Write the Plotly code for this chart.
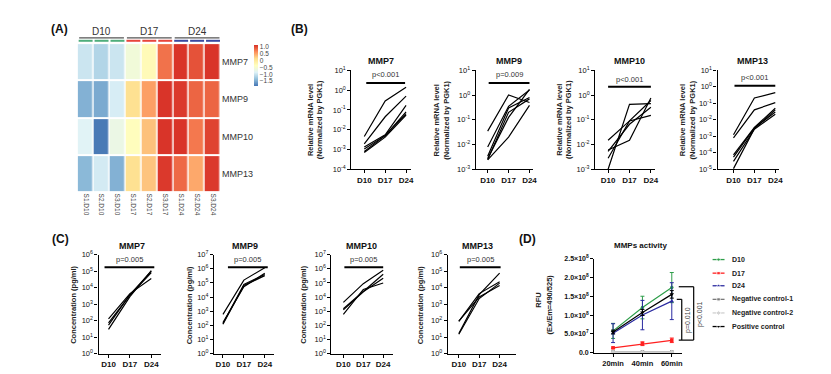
import plotly.graph_objects as go

W, H = 831, 374
FONT = "Liberation Sans, Arial, sans-serif"

# ---------------- data ----------------
hm_rows = ["MMP7", "MMP9", "MMP10", "MMP13"]
hm_cols = ["S1.D10", "S2.D10", "S3.D10", "S1.D17", "S2.D17", "S3.D17", "S1.D24", "S2.D24", "S3.D24"]
hm_mmp7 = [-1.0, -1.15, -1.0, -0.6, -0.3, 0.75, 1.08, 0.92, 1.08]
hm_mmp9 = [-1.45, -1.5, -0.92, 0.1, 0.5, 1.08, 1.05, 0.82, 0.82]
hm_mmp10 = [-0.85, -1.82, -0.7, -0.35, 0.3, 1.08, 1.08, 0.72, 1.0]
hm_mmp13 = [-1.4, -0.95, -1.45, 0.1, 0.28, 1.05, 0.8, 0.45, 1.05]
hm_groups = ["D10", "D17", "D24"]
cb_ticks = [1.0, 0.5, 0.0, -0.5, -1.0, -1.5]
cb_text = ["1.0", "0.5", "0", "\u22120.5", "\u22121.0", "\u22121.5"]

days = ["D10", "D17", "D24"]

# (B) relative mRNA level, one list per donor: [D10, D17, D24]
mrna_mmp7 = [[4.5e-3, 0.28, 1.4], [1.9e-3, 0.045, 0.5], [1.35e-3, 5.5e-3, 0.17],
             [1.07e-3, 5e-3, 0.08], [8e-4, 5e-3, 0.065], [7e-4, 4.2e-3, 0.055]]
mrna_mmp9 = [[0.035, 1.0, 0.5], [8e-3, 0.35, 1.6], [3.4e-3, 0.3, 0.8],
             [2.7e-3, 0.125, 1.7], [2.4e-3, 0.02, 0.38], [2.5e-3, 0.2, 0.7]]
mrna_mmp10 = [[1e-3, 0.42, 0.45], [0.015, 0.09, 0.15], [6e-3, 0.015, 0.76],
              [5.3e-3, 0.066, 0.32], [2.8e-3, 0.09, 0.6]]
mrna_mmp13 = [[1.25e-3, 0.21, 0.44], [8e-4, 0.04, 0.11], [7.4e-5, 3.4e-3, 0.05],
              [5.5e-5, 3.2e-3, 0.03], [3e-5, 2.7e-3, 0.022], [1.1e-5, 2.9e-3, 0.04]]
mrna_p = ["p<0.001", "p=0.009", "p<0.001", "p<0.001"]

# (C) concentration pg/ml
conc_mmp7 = [[130, 4400, 3.6e4], [75, 3500, 8.3e4], [54, 3800, 1.0e5], [30, 2900, 1.1e5]]
conc_mmp9 = [[600, 1.6e5, 1.2e6], [135, 8e4, 4e5], [120, 6.6e4, 3.3e5], [160, 5.5e4, 4.8e5]]
conc_mmp10 = [[4300, 9e4, 8e5], [1500, 2.7e4, 4.2e5], [1260, 2.4e4, 2.2e5], [600, 3.5e4, 1e5]]
conc_mmp13 = [[90, 4400, 2.3e4], [95, 2700, 1.35e4], [17, 3800, 7.6e4], [15, 2200, 1.9e4]]
conc_p = ["p=0.005", "p=0.005", "p=0.005", "p=0.005"]

# (D) MMPs activity
times = ["20min", "40min", "60min"]
act_names = ["D10", "D17", "D24", "Negative control-1", "Negative control-2", "Positive control"]
act_d10 = [5.8e7, 1.2e8, 1.73e8]
act_d10_err = [2.0e7, 3.0e7, 4.0e7]
act_d17 = [1.3e7, 2.4e7, 3.3e7]
act_d17_err = [2e6, 5e6, 6e6]
act_d24 = [5.2e7, 1.0e8, 1.37e8]
act_d24_err = [2.5e7, 3.9e7, 4.9e7]
act_nc1 = [2e6, 2e6, 2e6]
act_nc2 = [1e6, 1e6, 1e6]
act_pc = [5.5e7, 1.07e8, 1.55e8]
act_pc_err = [5e6, 8e6, 1e7]
act_ticks = [0, 5e7, 1e8, 1.5e8, 2e8, 2.5e8]
act_ticktext = ["0.0", "5.0\u00d710<sup>7</sup>", "1.0\u00d710<sup>8</sup>", "1.5\u00d710<sup>8</sup>",
                "2.0\u00d710<sup>8</sup>", "2.5\u00d710<sup>8</sup>"]

# ---------------- helpers ----------------
def fx(px):
    return px / W


def fy(py):
    return 1 - py / H


fig = go.Figure()
layout = {}
shapes = []
annots = []


def text(px, py, s, size=8, bold=False, color="#222", angle=0, xanchor="center"):
    annots.append(dict(x=fx(px), y=fy(py), xref="paper", yref="paper", text=f"<b>{s}</b>" if bold else s,
                       showarrow=False, textangle=angle, xanchor=xanchor, yanchor="middle",
                       font=dict(size=size, color=color, family=FONT)))


def hline(x0, x1, y, width=1.2, color="black"):
    shapes.append(dict(type="line", xref="paper", yref="paper", x0=fx(x0), x1=fx(x1), y0=fy(y), y1=fy(y),
                       line=dict(color=color, width=width)))


def vline(x, y0, y1, width=1.2, color="black"):
    shapes.append(dict(type="line", xref="paper", yref="paper", x0=fx(x), x1=fx(x), y0=fy(y0), y1=fy(y1),
                       line=dict(color=color, width=width)))


axbase = dict(showline=True, linecolor="black", linewidth=1.2, ticks="outside", ticklen=3, tickwidth=1,
              tickcolor="black", showgrid=False, zeroline=False, fixedrange=True)

# ---------------- (A) heatmap ----------------
hm_scale = [[0, "#4575B4"], [1 / 6, "#91BFDB"], [2 / 6, "#E0F3F8"], [3 / 6, "#FFFFBF"],
            [4 / 6, "#FEE090"], [5 / 6, "#FC8D59"], [1, "#D73027"]]
fig.add_trace(go.Heatmap(z=[hm_mmp7, hm_mmp9, hm_mmp10, hm_mmp13], x=hm_cols, y=hm_rows,
                         colorscale=hm_scale, zmin=-1.85, zmax=1.1, xgap=1.5, ygap=2,
                         xaxis="x", yaxis="y", hoverinfo="skip",
                         colorbar=dict(x=fx(247), xanchor="left", y=fy(32), yanchor="top",
                                       thickness=4, thicknessmode="pixels", len=41, lenmode="pixels",
                                       outlinewidth=0, tickvals=cb_ticks, ticktext=cb_text, ticks="",
                                       tickfont=dict(size=6.5, color="#444", family=FONT), xpad=0, ypad=0)))
layout["xaxis"] = dict(domain=[fx(70), fx(214)], anchor="y", showline=False, ticks="", showgrid=False,
                       zeroline=False, tickangle=90, tickfont=dict(size=6.5, color="#444", family=FONT),
                       fixedrange=True)
layout["yaxis"] = dict(domain=[fy(184), fy(30)], anchor="x", side="right", autorange="reversed",
                       showline=False, ticks="", showgrid=False, zeroline=False,
                       tickfont=dict(size=9, color="#333", family=FONT), fixedrange=True)
grp_colors = ["#4fae7c", "#e8453c", "#3a48a0"]
for g, name in enumerate(hm_groups):
    x0 = 70 + g * 48
    text(x0 + 24, 18, name, size=10, color="#333")
    hline(x0 + 1.5, x0 + 46.5, 24.5, width=1.3, color="#555")
    for c in range(3):
        cx = x0 + c * 16
        hline(cx + 1, cx + 15, 27.6, width=2, color=grp_colors[g])
text(52, 15, "(A)", size=12, bold=True, color="#111")

# ---------------- log line panels ----------------
def log_panel(idx, series, L, p0, p2, R, top, bot, lo, hi):
    unit = (p2 - p0) / 2
    layout[f"xaxis{idx}"] = dict(axbase, domain=[fx(L), fx(R)], range=[(L - p0) / unit, (R - p0) / unit],
                                 anchor=f"y{idx}", tickvals=[0, 1, 2], ticktext=[f"<b>{d}</b>" for d in days],
                                 tickfont=dict(size=8, color="#111", family=FONT))
    layout[f"yaxis{idx}"] = dict(axbase, domain=[fy(bot), fy(top)], type="log", range=[lo, hi],
                                 anchor=f"x{idx}", tickvals=[10.0 ** k for k in range(lo, hi + 1)],
                                 ticktext=[f"10<sup>{k}</sup>" for k in range(lo, hi + 1)],
                                 tickfont=dict(size=7.5, color="#111", family=FONT))
    for s in series:
        fig.add_trace(go.Scatter(x=[0, 1, 2], y=s, mode="lines", line=dict(color="black", width=1.2),
                                 xaxis=f"x{idx}", yaxis=f"y{idx}", hoverinfo="skip", showlegend=False))


# (B)
b_series = [mrna_mmp7, mrna_mmp9, mrna_mmp10, mrna_mmp13]
b_geo = [(345, 358, 400, 405, -4), (470, 482, 524, 528, -3), (590, 603, 646, 650, -3), (713, 729, 771, 775, -5)]
b_titles = ["MMP7", "MMP9", "MMP10", "MMP13"]
b_title_x = [375, 503, 625, 748]
b_ytitle_x = [309, 436, 559, 683]
b_bar = [(360, 399, 71, 62), (483, 524, 71, 62), (603, 646, 75, 67), (730, 771, 74, 65)]
for i in range(4):
    L, p0, p2, R, lo = b_geo[i]
    log_panel(2 + i, b_series[i], L, p0, p2, R, 58, 160, lo, 1)
    text(b_title_x[i], 48, b_titles[i], size=9, bold=True, color="#111")
    text(b_ytitle_x[i], 109, "Relative mRNA level<br>(Normalized by PGK1)", size=7.5, bold=True,
         color="#222", angle=-90)
    x0, x1, yb, yt = b_bar[i]
    hline(x0, x1, yb, width=2)
    text((x0 + x1) / 2, yt, mrna_p[i], size=7.5, color="#333")
text(293, 15, "(B)", size=12, bold=True, color="#111")

# (C)
c_series = [conc_mmp7, conc_mmp9, conc_mmp10, conc_mmp13]
c_geo = [(91, 101, 144, 154, 6), (207, 216, 258, 267, 7), (325, 337, 377, 387, 7), (442, 453, 494, 510, 6)]
c_title_x = [125, 238, 355, 472]
c_ytitle_x = [65, 182, 297, 414]
c_bar = [(97, 147), (221, 261), (338, 377), (454, 495)]
for i in range(4):
    L, p0, p2, R, hi = c_geo[i]
    log_panel(6 + i, c_series[i], L, p0, p2, R, 248, 350, 0, hi)
    text(c_title_x[i], 239, b_titles[i], size=9, bold=True, color="#111")
    text(c_ytitle_x[i], 300, "Concentration (pg/ml)", size=7.5, bold=True, color="#222", angle=-90)
    x0, x1 = c_bar[i]
    hline(x0, x1, 261, width=2)
    text((x0 + x1) / 2, 253, conc_p[i], size=7.5, color="#333")
text(53, 232, "(C)", size=12, bold=True, color="#111")

# ---------------- (D) activity ----------------
unit = (667 - 608) / 2
layout["xaxis10"] = dict(axbase, domain=[fx(589), fx(677)], range=[(589 - 608) / unit, 2 + (677 - 667) / unit],
                         anchor="y10", tickvals=[0, 1, 2], ticktext=[f"<b>{t}</b>" for t in times],
                         tickfont=dict(size=7.5, color="#111", family=FONT))
layout["yaxis10"] = dict(axbase, domain=[fy(349), fy(252)], range=[0, 2.5e8], anchor="x10",
                         tickvals=act_ticks, ticktext=[f"<b>{t}</b>" for t in act_ticktext],
                         tickfont=dict(size=7, color="#111", family=FONT))
act_series = [
    (act_d10, act_d10_err, "#2e9e4a", "circle", 3.5),
    (act_d17, act_d17_err, "#ff2020", "square", 3.5),
    (act_d24, act_d24_err, "#2a2aa0", "triangle-up", 4),
    (act_nc1, None, "#7a7a7a", "square", 3.5),
    (act_nc2, None, "#cfcfcf", "diamond", 4),
    (act_pc, act_pc_err, "#000000", "triangle-down", 4),
]
for vals, err, col, sym, ms in act_series:
    fig.add_trace(go.Scatter(x=[0, 1, 2], y=vals, mode="lines+markers", line=dict(color=col, width=1.2),
                             marker=dict(symbol=sym, size=ms, color=col),
                             error_y=dict(type="data", array=err, visible=err is not None, color=col,
                                          thickness=1, width=2),
                             xaxis="x10", yaxis="y10", hoverinfo="skip", showlegend=False, cliponaxis=False))
text(636, 239, "MMPs activity", size=8, bold=True, color="#111")
text(533, 295, "RFU", size=7.5, bold=True, color="#222", angle=-90)
text(544, 299, "(Ex/Em=490/525)", size=7.5, bold=True, color="#222", angle=-90)
text(522, 232, "(D)", size=12, bold=True, color="#111")

# significance brackets
hline(674, 689, 281)
vline(689, 281, 336)
hline(674, 689, 336)
hline(672, 677, 294)
vline(677, 294, 336)
text(683.5, 315, "p=0.010", size=7, color="#444", angle=-90)
text(695.5, 309, "p<0.001", size=7, color="#444", angle=-90)

# legend (drawn on an overlay pixel axis)
layout["xaxis11"] = dict(domain=[0, 1], range=[0, W], visible=False, anchor="y11", fixedrange=True)
layout["yaxis11"] = dict(domain=[0, 1], range=[H, 0], visible=False, anchor="x11", fixedrange=True)
leg_y = [253, 267, 280, 294, 308, 322]
for k, (vals, err, col, sym, ms) in enumerate(act_series):
    fig.add_trace(go.Scatter(x=[708, 714, 720], y=[leg_y[k]] * 3, mode="lines+markers",
                             line=dict(color=col, width=1.3),
                             marker=dict(symbol=sym, size=[0, ms, 0], color=col),
                             xaxis="x11", yaxis="y11", hoverinfo="skip", showlegend=False))
    text(725, leg_y[k], act_names[k], size=7, bold=True, color="#222", xanchor="left")

layout.update(dict(width=W, height=H, margin=dict(l=0, r=0, t=0, b=0), paper_bgcolor="white",
                   plot_bgcolor="rgba(0,0,0,0)", showlegend=False, shapes=shapes, annotations=annots,
                   font=dict(family=FONT, color="#222")))
fig.update_layout(**layout)
fig.write_html("out.html")
